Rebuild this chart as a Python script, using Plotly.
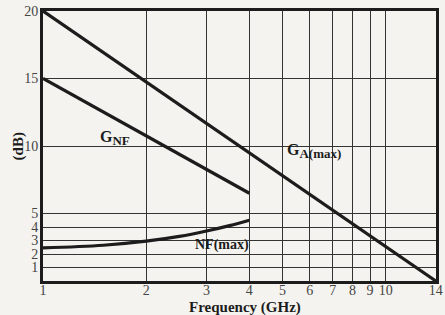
import plotly.graph_objects as go

# Data
ga_freq = [1, 14]
ga_db = [20, 0]
gnf_freq = [1, 4]
gnf_db = [15, 6.5]
nf_freq = [1, 1.5, 2, 2.5, 3, 3.5, 4]
nf_db = [2.45, 2.65, 2.95, 3.3, 3.7, 4.1, 4.5]
x_ticks = [1, 2, 3, 4, 5, 6, 7, 8, 9, 10, 14]
x_labels = ["1", "2", "3", "4", "5", "6", "7", "8", "9", "10", "14"]
y_ticks = [1, 2, 3, 4, 5, 10, 15, 20]
y_labels = ["1", "2", "3", "4", "5", "10", "15", "20"]

INK = "#1c1c1c"
BG = "#f4f3ef"
FONT = "Liberation Serif"

fig = go.Figure()
for xs, ys in [(ga_freq, ga_db), (gnf_freq, gnf_db)]:
    fig.add_trace(go.Scatter(x=xs, y=ys, mode="lines",
                             line=dict(color=INK, width=3.2), hoverinfo="skip"))
fig.add_trace(go.Scatter(x=nf_freq, y=nf_db, mode="lines",
                         line=dict(color=INK, width=3.2, shape="spline"), hoverinfo="skip"))

SUB = "<span style='font-size:13px'>"
fig.add_annotation(x=0.21, y=10.6, text="<b>G<sub>" + SUB + "NF</span></sub></b>", showarrow=False,
                   font=dict(family=FONT, size=16, color=INK))
fig.add_annotation(x=0.79, y=9.6, text="<b>G<sub>" + SUB + "A(max)</span></sub></b>", showarrow=False,
                   font=dict(family=FONT, size=16, color=INK))
fig.add_annotation(x=0.521, y=2.7, text="<b>NF(max)</b>", showarrow=False,
                   font=dict(family=FONT, size=14, color=INK))

# axis titles
fig.add_annotation(xref="paper", yref="paper", x=0.513, y=-0.097, xanchor="center", yanchor="middle",
                   text="<b>Frequency (GHz)</b>", showarrow=False,
                   font=dict(family=FONT, size=15, color=INK))
fig.add_annotation(xref="paper", yref="paper", x=-0.0625, y=0.5, xanchor="center", yanchor="middle",
                   textangle=-90, text="<b>(dB)</b>", showarrow=False,
                   font=dict(family=FONT, size=15, color=INK))

fig.update_layout(
    width=445, height=315,
    margin=dict(l=43, r=2, t=11, b=34),
    paper_bgcolor=BG, plot_bgcolor=BG,
    showlegend=False,
    font=dict(family=FONT, size=12, color=INK),
    xaxis=dict(type="log", range=[0, 1.1466], tickvals=x_ticks, ticktext=x_labels,
               showgrid=True, gridcolor="#333333", gridwidth=1,
               showline=True, linecolor=INK, linewidth=3, mirror=True,
               ticks="", ticklen=0, ticklabelstandoff=-6, ticklabeloverflow="allow",
               zeroline=False, tickfont=dict(size=14, color="#444")),
    yaxis=dict(range=[0, 20], tickvals=y_ticks, ticktext=y_labels,
               showgrid=True, gridcolor="#333333", gridwidth=1,
               showline=True, linecolor=INK, linewidth=3, mirror=True,
               ticks="", ticklen=0, ticklabelstandoff=-1,
               zeroline=False, tickfont=dict(size=14, color="#444")),
)
fig.write_html("out.html", config={"displayModeBar": False},
               post_script="document.body.style.margin='0';document.body.style.overflow='hidden';"
                           "document.body.style.background='" + BG + "';")
